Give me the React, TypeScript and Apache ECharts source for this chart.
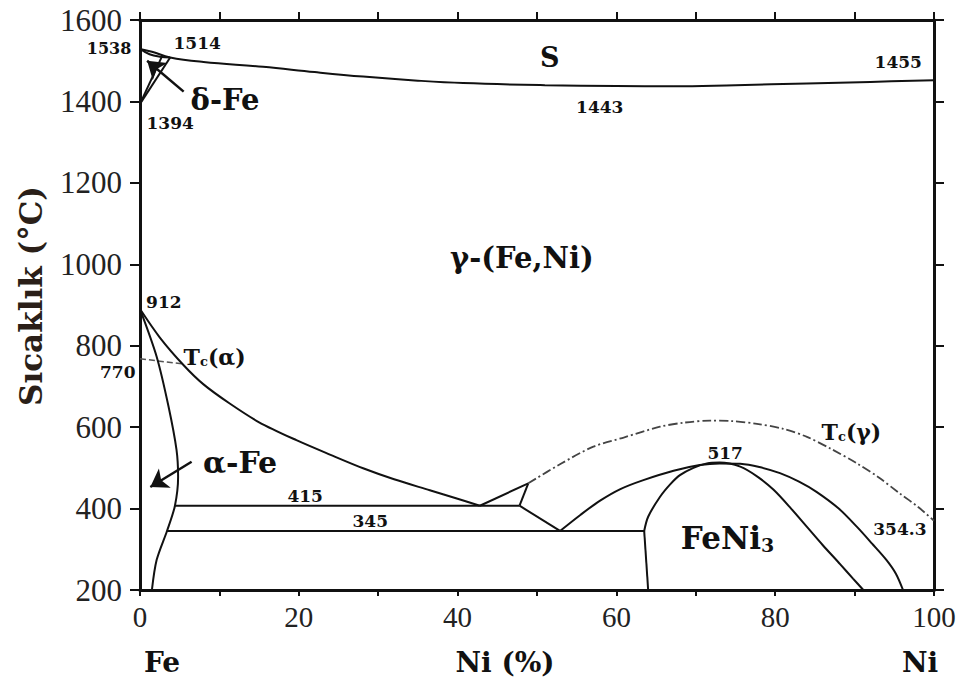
import React, { useEffect, useRef } from "react";
import * as echarts from "echarts";

// Axis ranges / ticks
const xTicks = { min: 0, max: 100, interval: 10 };
const yTicks = { min: 200, max: 1600, interval: 200 };

// Phase boundaries [Ni %, T °C]
const liquidus = [[0,1529],[1.5,1522],[3.8,1508],[8,1497],[15.5,1485],[22,1472],[28.1,1461],[35,1451],[40.7,1445],[51,1440],[60,1438],[67.2,1437],[75,1440],[84,1444],[92,1448],[100,1452]];
const solidusDelta = [[0,1529],[1.2,1516],[2.5,1510],[3.8,1508]];
const deltaLeft = [[0,1394],[2.8,1512]];
const deltaRight = [[0,1394],[3.8,1508]];
const tcAlpha = [[0,768],[5.5,755]];
const gammaAlphaOuter = [[0,890],[2.5,820],[5.5,752],[8,705],[11.3,658],[15,612],[19.7,568],[24,532],[28.1,499],[32,472],[36.5,445],[40,424],[42.8,407]];
const alphaInner = [[0,890],[2.1,773],[3.6,650],[4.6,544],[4.8,478],[4.4,407],[3.4,345],[2.1,274],[1.5,200]];
const line415 = [[4.4,407],[47.8,407]];
const vUp = [[42.8,407],[48.9,462]];
const stubUp = [[47.8,407],[48.9,462]];
const stubDown = [[47.8,407],[52.9,345]];
const line345 = [[3.4,345],[63.5,345]];
const feni3Outer = [[52.9,345],[55.5,385],[57.9,419],[60.5,448],[63.4,470],[67.2,493],[70.5,507],[73,511],[75.6,510],[78,502],[80.6,487],[83,466],[85.2,441],[88,400],[90.3,355],[92.2,314],[94,274],[95.2,240],[96.1,200]];
const feni3Inner = [[63.5,345],[64,380],[65.5,429],[66.8,460],[68,482],[69.7,500],[71.4,511],[73,513],[75.6,503],[77.8,478],[79.8,446],[82,400],[84,355],[86,310],[88.2,263],[89.8,228],[91.1,200]];
const feni3Left = [[63.5,345],[64,200]];
const tcGamma = [[48.9,462],[53,510],[57.1,552],[61,575],[65.5,601],[68.5,611],[71.8,616],[74.5,615],[77.7,608],[81,596],[84,576],[87,547],[90.3,511],[93,477],[95.7,437],[98,404],[100,370]];

// Arrows [from, to]
const arrows = [
  [[5.5,1424],[0.9,1500]],
  [[6.5,515],[1.3,453]],
];

// Annotations [x, T, text, size]
const notes: [number, number, string, number][] = [
  [-3.9,1531,"1538",16],
  [7.2,1544,"1514",17],
  [10.7,1403,"δ-Fe",29],
  [3.8,1347,"1394",17],
  [51.6,1507,"S",27],
  [95.5,1498,"1455",17],
  [57.9,1387,"1443",17],
  [48.1,1015,"γ-(Fe,Ni)",29],
  [3.0,908,"912",17],
  [9.4,773,"{b|T}{s|c}{b|(α)}",22],
  [-2.8,735,"770",17],
  [12.6,512,"α-Fe",30],
  [20.8,431,"415",17],
  [29,370,"345",17],
  [73.7,536,"517",17],
  [89.6,589,"{b|T}{s|c}{b|(γ)}",22],
  [95.7,351,"354.3",17],
  [74,327,"{b|FeNi}{s|3}",31],
];

const INK = "#111";
const SERIF = "DejaVu Serif";

function curve(data: number[][], smooth: number | boolean = 0.3, extra: any = {}) {
  return {
    type: "line",
    data,
    smooth,
    symbol: "none",
    clip: false,
    lineStyle: { color: INK, width: 2, ...extra },
    z: 3,
  };
}

export default function App() {
  const ref = useRef<HTMLDivElement>(null);
  useEffect(() => {
    if (!ref.current) return;
    const chart = echarts.init(ref.current, undefined, { renderer: "svg" });
    const axisLine = { show: true, onZero: false, lineStyle: { color: INK, width: 3 } };
    const tickStyle = { color: INK, width: 2 };
    const option: any = {
      animation: false,
      backgroundColor: "#fff",
      grid: { left: 140, right: 34, top: 20, bottom: 96 },
      xAxis: [
        {
          type: "value", ...xTicks, position: "bottom",
          axisLine, axisTick: { show: true, length: 6, lineStyle: tickStyle },
          axisLabel: {
            margin: 12, color: "#222", fontFamily: "Liberation Serif", fontSize: 29,
            formatter: (v: number) => (v % 20 === 0 ? String(v) : ""),
          },
          splitLine: { show: false },
        },
        {
          type: "value", ...xTicks, position: "top",
          axisLine, axisTick: { show: true, length: 8, lineStyle: tickStyle },
          axisLabel: { show: false }, splitLine: { show: false },
        },
      ],
      yAxis: [
        {
          type: "value", ...yTicks, position: "left",
          axisLine, axisTick: { show: true, length: 10, lineStyle: tickStyle },
          axisLabel: { margin: 18, color: "#222", fontFamily: "Liberation Serif", fontSize: 31, formatter: (v: number) => String(v) },
          splitLine: { show: false },
        },
        {
          type: "value", ...yTicks, position: "right",
          axisLine, axisTick: { show: true, length: 10, lineStyle: tickStyle },
          axisLabel: { show: false }, splitLine: { show: false },
        },
      ],
      graphic: [
        {
          type: "text", x: 31, y: 296, rotation: Math.PI / 2,
          style: { text: "Sıcaklık (°C)", fill: "#2a1f18", font: `bold 31px "${SERIF}"`, textAlign: "center", textVerticalAlign: "middle" },
        },
        { type: "text", x: 162, y: 662, style: { text: "Fe", fill: INK, font: `bold 28px "${SERIF}"`, textAlign: "center", textVerticalAlign: "middle" } },
        { type: "text", x: 505, y: 662, style: { text: "Ni (%)", fill: INK, font: `bold 28px "${SERIF}"`, textAlign: "center", textVerticalAlign: "middle" } },
        { type: "text", x: 920, y: 662, style: { text: "Ni", fill: INK, font: `bold 28px "${SERIF}"`, textAlign: "center", textVerticalAlign: "middle" } },
      ],
      series: [
        curve(liquidus, 0.4),
        curve(solidusDelta, 0.4),
        curve(deltaLeft, false),
        curve(deltaRight, false),
        curve(tcAlpha, false, { type: [6, 3], width: 1.5, color: "#555" }),
        curve(gammaAlphaOuter, 0.3),
        curve(alphaInner, 0.3),
        curve(line415, false),
        curve(vUp, false),
        curve(stubUp, false),
        curve(stubDown, false),
        curve(line345, false),
        curve(feni3Outer, 0.3),
        curve(feni3Inner, 0.3),
        curve(feni3Left, false),
        curve(tcGamma, 0.3, { type: [9, 3, 2, 3], width: 1.8, color: "#444" }),
        {
          type: "lines",
          coordinateSystem: "cartesian2d",
          symbol: ["none", "arrow"],
          symbolSize: [11, 17],
          lineStyle: { color: INK, width: 2.5, opacity: 1 },
          data: arrows.map((a) => ({ coords: a })),
          z: 4,
        },
        {
          type: "scatter",
          symbolSize: 0,
          clip: false,
          z: 5,
          itemStyle: { opacity: 1 },
          data: notes.map(([x, y, t, s]) => ({
            value: [x, y],
            label: {
              show: true,
              position: "inside",
              formatter: t,
              fontSize: s,
              fontFamily: SERIF,
              fontWeight: "bold",
              color: INK,
              opacity: 1,
              rich: {
                b: { fontSize: s, fontFamily: SERIF, fontWeight: "bold", color: INK },
                s: { fontSize: Math.round(s * 0.6), fontFamily: SERIF, fontWeight: "bold", color: INK, padding: [Math.round(s * 0.45), 0, 0, 0] },
              },
            },
          })),
        },
      ],
    };
    chart.setOption(option);
    return () => chart.dispose();
  }, []);
  return (
    <div
      ref={ref}
      style={{ position: "fixed", left: 0, top: 0, width: 968, height: 686, background: "#fff" }}
    />
  );
}
